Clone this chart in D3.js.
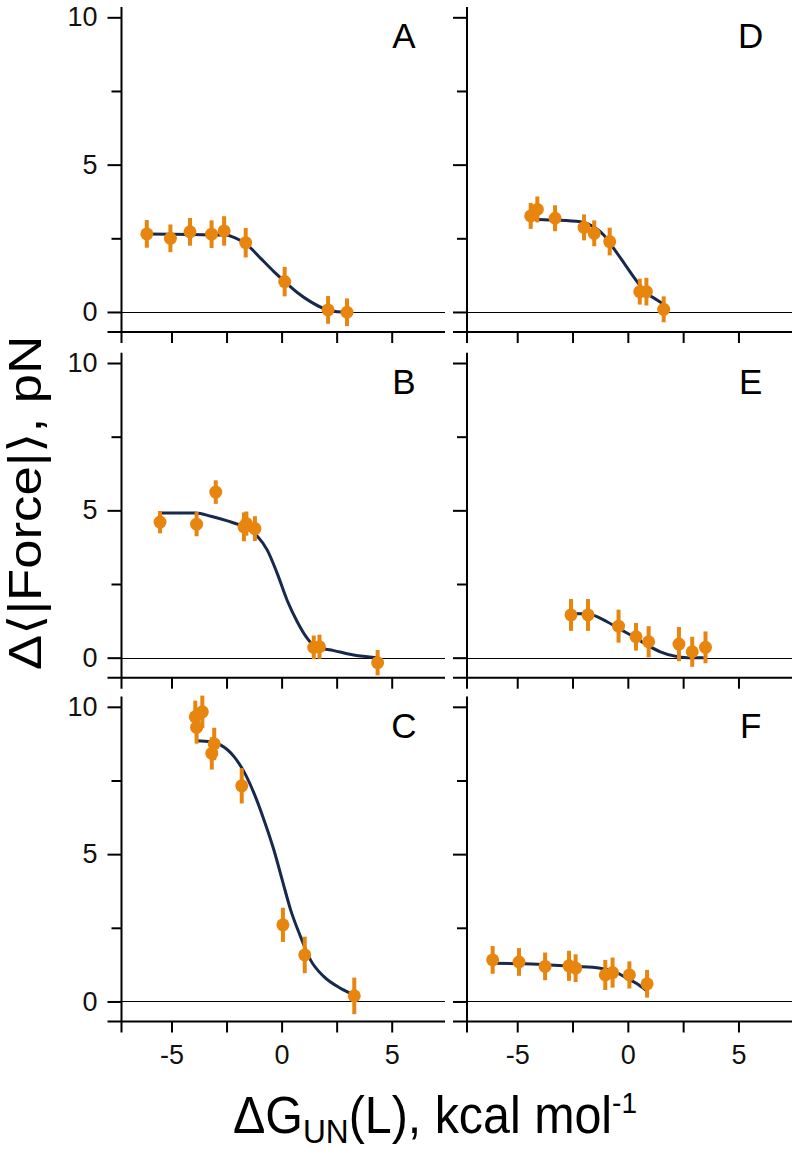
<!DOCTYPE html>
<html><head><meta charset="utf-8">
<script src="https://cdn.jsdelivr.net/npm/d3@7"></script>
<style>body{margin:0;background:#fff} svg{display:block}</style>
</head><body>
<svg id="chart" width="796" height="1157"></svg>
<script>
// ---------- DATA ----------
const panelLabels = ["A", "B", "C", "D", "E", "F"];

// Panel A
const xA = [-6.12, -5.05, -4.16, -3.18, -2.61, -1.63, 0.14, 2.11, 2.97];
const yA = [2.65, 2.50, 2.72, 2.64, 2.75, 2.35, 1.03, 0.07, -0.01];
const eA = [0.47, 0.47, 0.47, 0.47, 0.50, 0.50, 0.50, 0.47, 0.47];
const fitXA = [-6.12, -2.53, -2.16, -1.55, -0.95, -0.35, 0.14, 0.71, 1.31, 1.91, 2.52, 2.97];
const fitYA = [2.65, 2.61, 2.53, 2.27, 1.82, 1.37, 1.03, 0.66, 0.35, 0.12, 0.01, 0.0];

// Panel B
const xB = [-5.52, -3.86, -2.99, -1.71, -1.60, -1.21, 1.46, 1.72, 4.36];
const yB = [4.60, 4.53, 5.62, 4.44, 4.55, 4.38, 0.35, 0.37, -0.17];
const eB = [0.38, 0.41, 0.40, 0.49, 0.41, 0.42, 0.40, 0.41, 0.43];
const fitXB = [-5.52, -3.89, -3.21, -2.46, -1.71, -1.10, -0.65, -0.20, 0.25, 0.71, 1.16, 1.54, 2.37, 3.27, 4.33];
const fitYB = [4.91, 4.91, 4.80, 4.64, 4.44, 4.12, 3.65, 2.86, 1.95, 1.22, 0.66, 0.37, 0.24, 0.09, 0.0];

// Panel C
const xC = [-3.86, -3.92, -3.60, -3.06, -3.17, -1.81, 0.06, 1.05, 3.30];
const yC = [9.30, 9.66, 9.83, 8.74, 8.42, 7.32, 2.60, 1.58, 0.19];
const eC = [0.55, 0.55, 0.55, 0.55, 0.55, 0.60, 0.58, 0.62, 0.62];
const fitXC = [-3.86, -3.21, -2.76, -2.16, -1.71, -1.25, -0.80, -0.35, 0.03, 0.41, 0.86, 1.31, 1.91, 2.67, 3.27];
const fitYC = [8.85, 8.81, 8.70, 8.31, 7.80, 7.06, 6.16, 5.14, 4.12, 3.11, 2.20, 1.41, 0.85, 0.45, 0.23];

// Panel D
const xD = [-4.39, -4.09, -3.29, -1.98, -1.52, -0.82, 0.54, 0.84, 1.62];
const yD = [3.26, 3.48, 3.18, 2.87, 2.67, 2.39, 0.69, 0.69, 0.09];
const eD = [0.44, 0.44, 0.44, 0.44, 0.44, 0.47, 0.44, 0.47, 0.44];
const fitXD = [-4.39, -3.36, -2.15, -1.55, -1.09, -0.64, -0.11, 0.42, 0.87, 1.32, 1.60];
const fitYD = [3.15, 3.12, 3.06, 2.89, 2.61, 2.16, 1.59, 1.03, 0.63, 0.41, 0.27];

// Panel E
const xE = [-2.57, -1.80, -0.42, 0.37, 0.94, 2.31, 2.91, 3.51];
const yE = [1.45, 1.45, 1.07, 0.71, 0.54, 0.46, 0.20, 0.35];
const eE = [0.54, 0.54, 0.56, 0.47, 0.53, 0.58, 0.51, 0.54];
const fitXE = [-2.57, -1.80, -0.94, -0.34, 0.26, 0.87, 1.47, 2.08, 2.68, 3.43];
const fitYE = [1.50, 1.48, 1.22, 0.96, 0.71, 0.43, 0.20, 0.06, 0.0, 0.0];

// Panel F
const xF = [-6.11, -4.92, -3.74, -2.66, -2.36, -1.02, -0.69, 0.07, 0.87];
const yF = [1.41, 1.34, 1.19, 1.21, 1.13, 0.90, 0.98, 0.90, 0.60];
const eF = [0.47, 0.47, 0.47, 0.51, 0.47, 0.51, 0.51, 0.46, 0.47];
const fitXF = [-6.11, -4.87, -3.66, -2.46, -1.25, -0.64, -0.04, 0.42, 0.84];
const fitYF = [1.30, 1.28, 1.25, 1.19, 1.13, 1.02, 0.79, 0.60, 0.37];

// Axes
const xMajorTicks = [-5, 0, 5];
const xMajorLabels = ["-5", "0", "5"];
const xMinorTicks = [-2.5, 2.5];
const yMajorTicks = [0, 5, 10];
const yMajorLabels = ["0", "5", "10"];
const yMinorTicks = [2.5, 7.5];
const xDomain = [-7.27, 7.42];
const yDomain = [-0.68, 10.35];
const xTitleMain = "ΔG", xTitleSub = "UN", xTitleRest = "(L), kcal mol", xTitleSup = "-1";
const yTitle = "Δ⟨|Force|⟩, pN";

// ---------- LAYOUT ----------
const FONT = "'Liberation Sans', Arial, Helvetica, sans-serif";
const ORANGE = "#E8850F";
const NAVY = "#17294C";
const colX = [[121.5, 445], [467, 792]];
const rowBottom = [332, 677.7, 1021.5];
const panelH = 325;

const panels = [
  {label: "A", col: 0, row: 0, x: xA, y: yA, e: eA, fx: fitXA, fy: fitYA},
  {label: "B", col: 0, row: 1, x: xB, y: yB, e: eB, fx: fitXB, fy: fitYB},
  {label: "C", col: 0, row: 2, x: xC, y: yC, e: eC, fx: fitXC, fy: fitYC},
  {label: "D", col: 1, row: 0, x: xD, y: yD, e: eD, fx: fitXD, fy: fitYD},
  {label: "E", col: 1, row: 1, x: xE, y: yE, e: eE, fx: fitXE, fy: fitYE},
  {label: "F", col: 1, row: 2, x: xF, y: yF, e: eF, fx: fitXF, fy: fitYF}
];

const svg = d3.select("#chart");

panels.forEach(p => {
  const [x0, x1] = colX[p.col];
  const bottom = rowBottom[p.row];
  const xs = d3.scaleLinear().domain(xDomain).range([x0, x1]);
  const ys = d3.scaleLinear().domain(yDomain).range([bottom, bottom - panelH]);
  const g = svg.append("g");

  // zero line
  const zy = Math.round(ys(0)) + 0.5;
  g.append("line")
    .attr("x1", x0).attr("x2", x1)
    .attr("y1", zy).attr("y2", zy)
    .attr("stroke", "#000").attr("stroke-width", 1);

  // y axis (major ticks with labels on left column only)
  const yMaj = d3.axisLeft(ys).tickValues(yMajorTicks).tickSize(14).tickPadding(10)
    .tickFormat((d, i) => p.col === 0 ? yMajorLabels[i] : "");
  const yMin = d3.axisLeft(ys).tickValues(yMinorTicks).tickSize(10).tickFormat(() => "");
  const gy = g.append("g").attr("transform", `translate(${x0},0)`).call(yMaj);
  const gy2 = g.append("g").attr("transform", `translate(${x0},0)`).call(yMin);
  [gy, gy2].forEach(a => {
    a.select(".domain").remove();
    a.selectAll("line").attr("stroke", "#000").attr("stroke-width", 2);
    a.selectAll("text").attr("font-family", FONT).attr("font-size", 27).attr("fill", "#111");
  });

  // x axis
  const xMaj = d3.axisBottom(xs).tickValues(xMajorTicks).tickSize(11).tickPadding(12)
    .tickFormat((d, i) => p.row === 2 ? xMajorLabels[i] : "");
  const xMin = d3.axisBottom(xs).tickValues(xMinorTicks).tickSize(11).tickFormat(() => "");
  const gx = g.append("g").attr("transform", `translate(0,${bottom})`).call(xMaj);
  const gx2 = g.append("g").attr("transform", `translate(0,${bottom})`).call(xMin);
  [gx, gx2].forEach(a => {
    a.select(".domain").remove();
    a.selectAll("line").attr("stroke", "#000").attr("stroke-width", 2);
    a.selectAll("text").attr("font-family", FONT).attr("font-size", 27).attr("fill", "#111");
  });

  // axis lines
  g.append("line").attr("x1", x0).attr("x2", x0)
    .attr("y1", bottom - panelH).attr("y2", bottom + 11)
    .attr("stroke", "#000").attr("stroke-width", 2);
  g.append("line").attr("x1", x0 - 14).attr("x2", x1)
    .attr("y1", bottom).attr("y2", bottom)
    .attr("stroke", "#000").attr("stroke-width", 2);

  // fit curve
  const fit = p.fx.map((v, i) => [v, p.fy[i]]);
  g.append("path").datum(fit)
    .attr("fill", "none").attr("stroke", NAVY).attr("stroke-width", 3)
    .attr("d", d3.line().x(d => xs(d[0])).y(d => ys(d[1])).curve(d3.curveMonotoneX));

  // data points
  const pts = p.x.map((v, i) => ({x: v, y: p.y[i], e: p.e[i]}));
  g.selectAll(".err").data(pts).join("line")
    .attr("x1", d => xs(d.x)).attr("x2", d => xs(d.x))
    .attr("y1", d => ys(d.y - d.e)).attr("y2", d => ys(d.y + d.e))
    .attr("stroke", ORANGE).attr("stroke-width", 4);
  g.selectAll(".pt").data(pts).join("circle")
    .attr("cx", d => xs(d.x)).attr("cy", d => ys(d.y)).attr("r", 6.5)
    .attr("fill", ORANGE);

  // panel label
  g.append("text").attr("x", xs(5.55)).attr("y", ys(8.95))
    .attr("text-anchor", "middle").attr("font-family", FONT).attr("font-size", 35)
    .attr("fill", "#000").text(p.label);
});

// x title
const xt = svg.append("text").attr("font-family", FONT).attr("font-size", 52).attr("fill", "#000");
xt.append("tspan").text(xTitleMain);
xt.append("tspan").attr("font-size", 34).attr("dy", 10).text(xTitleSub);
xt.append("tspan").attr("dy", -10).text(xTitleRest);
xt.append("tspan").attr("font-size", 30).attr("dy", -20).text(xTitleSup);
const xw = xt.node().getBBox().width;
xt.attr("transform", `translate(233,1133) scale(${404 / xw},1)`);

// y title
const yt = svg.append("text").attr("font-family", FONT).attr("font-size", 46).attr("fill", "#000").text(yTitle);
const yw = yt.node().getBBox().width;
yt.attr("transform", `translate(41,670) rotate(-90) scale(${335 / yw},1)`);
</script>
</body></html>
